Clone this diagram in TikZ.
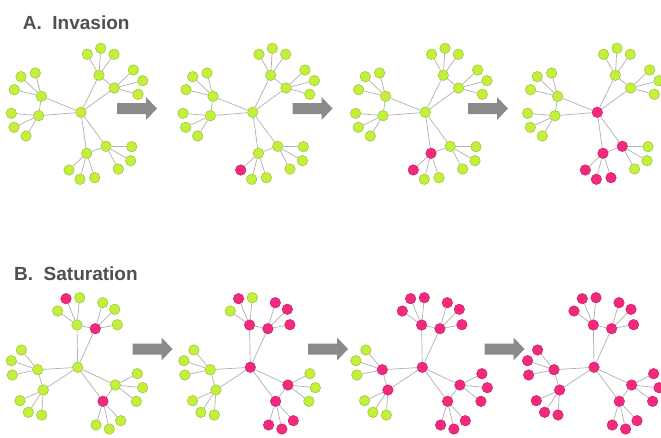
\documentclass[tikz,border=0pt]{standalone}
\usepackage{fontspec}
\setmainfont{Liberation Sans}
\pgfdeclarelayer{bg}
\pgfsetlayers{bg,main}
\definecolor{gfill}{HTML}{C2F03C}
\definecolor{gdraw}{HTML}{9AC232}
\definecolor{pfill}{HTML}{F2297C}
\definecolor{pdraw}{HTML}{CC1D66}
\definecolor{edgec}{HTML}{B0B0B0}
\definecolor{arrc}{HTML}{8A8A8A}
\definecolor{titlec}{HTML}{505050}
\tikzset{
  nd/.style={circle,line width=0.5pt,minimum size=10.5pt,inner sep=0pt},
  link/.style={draw=edgec,line width=0.7pt},
  bigarrow/.style={fill=arrc,draw=none},
  title/.style={anchor=base west,inner sep=0pt,text=titlec,font=\bfseries\fontsize{19}{19}\selectfont},
}
\def\nodesA{c/81/112.3,
 h1/99/75.3, h1a/87.3/54.3, h1b/100.7/48.3, h1c/114/54.3,
 h2/114.3/88, h2a/133.3/70, h2b/142.7/80.7, h2c/138/94.3,
 h3/41.3/96.3, h3a/21/76.7, h3b/35.3/73, h3c/14.3/89.7,
 h4/38.7/115.7, h4a/11.3/113.3, h4b/14/127.3, h4c/26/136,
 h5/106/146.3, h5a/131.7/146.7, h5b/130.7/160.7, h5c/118.3/169,
 h6/86.7/153.3, h6a/69/170, h6b/80/179.3, h6c/94.7/177.7}
\def\nodesB{c/77.7/367.3,
 h1/77/325, h1a/66/298.7, h1b/79.7/297.7, h1c/57.7/311,
 h2/95.3/328.7, h2a/102.7/302.7, h2b/114.7/309.3, h2c/117.3/324.7,
 h3/37.7/369.7, h3a/21.3/350, h3b/11.3/360.7, h3c/12.3/375,
 h4/43.3/390, h4a/20/400.7, h4b/28.3/412.3, h4c/41.7/415,
 h5/115.3/385, h5a/137.3/373.7, h5b/142.7/387.7, h5c/136.3/401.3,
 h6/103/401.3, h6a/96/425, h6b/109.3/429, h6c/120.7/420.7}
\def\edgelist{c/h1,c/h2,h1/h2,c/h3,c/h4,h3/h4,c/h5,c/h6,h5/h6,
 h1/h1a,h1/h1b,h1/h1c,h2/h2a,h2/h2b,h2/h2c,h3/h3a,h3/h3b,h3/h3c,
 h4/h4a,h4/h4b,h4/h4c,h5/h5a,h5/h5b,h5/h5c,h6/h6a,h6/h6b,h6/h6c}
% colour arrays: order c, h1,h1a,h1b,h1c, h2.., h3.., h4.., h5.., h6..
\def\colAa{{0, 0,0,0,0, 0,0,0,0, 0,0,0,0, 0,0,0,0, 0,0,0,0, 0,0,0,0}}
\def\colAb{{0, 0,0,0,0, 0,0,0,0, 0,0,0,0, 0,0,0,0, 0,0,0,0, 0,1,0,0}}
\def\colAc{{0, 0,0,0,0, 0,0,0,0, 0,0,0,0, 0,0,0,0, 0,0,0,0, 1,1,0,0}}
\def\colAd{{1, 0,0,0,0, 0,0,0,0, 0,0,0,0, 0,0,0,0, 1,0,0,0, 1,1,1,1}}
\def\colBa{{0, 0,1,0,0, 1,0,0,0, 0,0,0,0, 0,0,0,0, 0,0,0,0, 1,0,0,0}}
\def\colBb{{1, 1,1,0,0, 1,1,1,1, 0,0,0,0, 0,0,0,0, 1,0,0,0, 1,1,1,1}}
\def\colBc{{1, 1,1,1,1, 1,1,1,1, 1,0,0,0, 1,0,0,0, 1,1,1,1, 1,1,1,1}}
\def\colBd{{1, 1,1,1,1, 1,1,1,1, 1,1,1,1, 1,1,1,1, 1,1,1,1, 1,1,1,1}}
\newcommand\drawtree[4]{%
  \begin{scope}[xshift=#3]
    \foreach \nm/\x/\y [count=\i from 0] in #2 {
      \pgfmathtruncatemacro\cc{#4[\i]}
      \ifnum\cc=1 \def\fc{pfill}\def\dc{pdraw}\else\def\fc{gfill}\def\dc{gdraw}\fi
      \node[nd,fill=\fc,draw=\dc] (#1\nm) at (\x,\y) {};
    }
  \end{scope}
  \begin{pgfonlayer}{bg}
    \foreach \u/\v in \edgelist { \draw[link] (#1\u) -- (#1\v); }
  \end{pgfonlayer}
}
\newcommand\blockarrow[2]{%
  \fill[bigarrow] (#1,#2-5.5) -- (#1+29,#2-5.5) -- (#1+29,#2-11.5) -- (#1+40,#2)
    -- (#1+29,#2+11.5) -- (#1+29,#2+5.5) -- (#1,#2+5.5) -- cycle;
}
\begin{document}
\begin{tikzpicture}[x=1pt,y=-1pt]
  \useasboundingbox (0,0) rectangle (661,437);
  \begin{pgfonlayer}{bg}
    \fill[white] (0,0) rectangle (661,437);
  \end{pgfonlayer}
  \node[title] (tA) at (22.7,29.3) {A.\ \ Invasion};
  \node[title] (tB) at (14,280) {B.\ \ Saturation};
  \drawtree{a1}{\nodesA}{0}{\colAa}
  \drawtree{a2}{\nodesA}{171.7}{\colAb}
  \drawtree{a3}{\nodesA}{344.3}{\colAc}
  \drawtree{a4}{\nodesA}{516.3}{\colAd}
  \drawtree{b1}{\nodesB}{0}{\colBa}
  \drawtree{b2}{\nodesB}{172.6}{\colBb}
  \drawtree{b3}{\nodesB}{344.6}{\colBc}
  \drawtree{b4}{\nodesB}{516.3}{\colBd}
  \blockarrow{117}{108.5}
  \blockarrow{292.5}{108.5}
  \blockarrow{468}{108.5}
  \blockarrow{132.5}{349}
  \blockarrow{308}{349}
  \blockarrow{484.5}{349}
\end{tikzpicture}
\end{document}
